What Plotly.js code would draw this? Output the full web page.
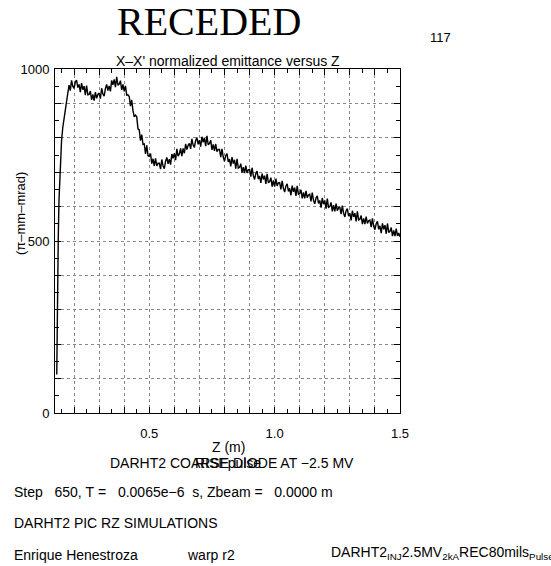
<!DOCTYPE html>
<html>
<head>
<meta charset="utf-8">
<script src="https://cdn.plot.ly/plotly-3.0.1.min.js"></script>
<style>html,body{margin:0;padding:0;background:#fff;}#chart{width:551px;height:566px;}</style>
</head>
<body>
<div id="chart"></div>
<script>
// ---- data ----
const zValues = [0.131,0.133,0.135,0.137,0.140,0.145,0.150,0.155,0.160,0.165,0.170,0.175,
0.180,0.185,0.190,0.195,0.200,0.205,0.210,0.215,0.220,0.225,0.230,0.235,0.240,0.245,0.250,0.255,0.260,0.265,0.270,0.275,
0.280,0.285,0.290,0.295,0.300,0.305,0.310,0.315,0.320,0.325,0.330,0.335,0.340,0.345,0.350,0.355,0.360,0.365,0.370,0.375,
0.380,0.385,0.390,0.395,0.400,0.405,0.410,0.415,0.420,0.425,0.430,0.435,0.440,0.445,0.450,0.455,0.460,0.465,0.470,0.475,
0.480,0.485,0.490,0.495,0.500,0.505,0.510,0.515,0.520,0.525,0.530,0.535,0.540,0.545,0.550,0.555,0.560,0.565,0.570,0.575,
0.580,0.585,0.590,0.595,0.600,0.605,0.610,0.615,0.620,0.625,0.630,0.635,0.640,0.645,0.650,0.655,0.660,0.665,0.670,0.675,
0.680,0.685,0.690,0.695,0.700,0.705,0.710,0.715,0.720,0.725,0.730,0.735,0.740,0.745,0.750,0.755,0.760,0.765,0.770,0.775,
0.780,0.785,0.790,0.795,0.800,0.805,0.810,0.815,0.820,0.825,0.830,0.835,0.840,0.845,0.850,0.855,0.860,0.865,0.870,0.875,
0.880,0.885,0.890,0.895,0.900,0.905,0.910,0.915,0.920,0.925,0.930,0.935,0.940,0.945,0.950,0.955,0.960,0.965,0.970,0.975,
0.980,0.985,0.990,0.995,1.000,1.005,1.010,1.015,1.020,1.025,1.030,1.035,1.040,1.045,1.050,1.055,1.060,1.065,1.070,1.075,
1.080,1.085,1.090,1.095,1.100,1.105,1.110,1.115,1.120,1.125,1.130,1.135,1.140,1.145,1.150,1.155,1.160,1.165,1.170,1.175,
1.180,1.185,1.190,1.195,1.200,1.205,1.210,1.215,1.220,1.225,1.230,1.235,1.240,1.245,1.250,1.255,1.260,1.265,1.270,1.275,
1.280,1.285,1.290,1.295,1.300,1.305,1.310,1.315,1.320,1.325,1.330,1.335,1.340,1.345,1.350,1.355,1.360,1.365,1.370,1.375,
1.380,1.385,1.390,1.395,1.400,1.405,1.410,1.415,1.420,1.425,1.430,1.435,1.440,1.445,1.450,1.455,1.460,1.465,1.470,1.475,
1.480,1.485,1.490,1.495,1.500];
const emittance = [112,300,420,510,620,730,790,830,862,880,905,930,
953,937,967,950,944,962,968,946,955,933,959,940,950,924,952,925,926,936,910,926,
908,933,915,926,930,914,944,927,921,943,955,937,951,935,967,954,970,947,977,953,
956,966,939,955,935,951,924,925,920,892,910,879,861,866,861,826,823,792,809,781,
782,753,778,748,746,754,725,739,718,740,718,726,726,709,737,718,710,732,743,724,
738,722,753,740,755,735,768,747,753,769,747,769,755,782,766,778,784,768,797,779,
772,792,801,781,793,774,803,787,800,776,806,780,783,793,765,781,762,782,760,766,
766,744,768,744,732,748,754,730,738,717,744,725,736,710,739,712,714,725,699,715,
697,719,698,707,708,687,713,690,679,696,703,680,689,669,696,679,690,666,695,670,
672,684,658,676,658,681,660,669,670,650,675,653,642,660,666,644,653,633,661,643,
655,631,660,635,638,649,624,641,624,646,626,634,636,615,641,618,608,625,631,609,
618,597,625,607,618,594,623,598,600,612,586,604,586,609,588,597,598,578,603,581,
570,588,594,572,581,560,588,570,581,557,586,561,563,574,549,566,549,571,551,559,
561,540,566,543,533,550,557,534,544,523,551,534,546,521,551,525,528,539,514,531,
514,536,515,523,512];
const xTickVals = [0.2,0.3,0.4,0.5,0.6,0.7,0.8,0.9,1.0,1.1,1.2,1.3,1.4,1.5];
const xTickText = ['','','','0.5','','','','','1.0','','','','','1.5'];
const yTickVals = [0,100,200,300,400,500,600,700,800,900,1000];
const yTickText = ['0','','','','','500','','','','','1000'];

// ---- layout geometry (pixels) ----
const W = 551, H = 566;
const L = 55, R = 400, T = 69, B = 413;
const px = x => (x - L) / (R - L);
const py = y => (B - y) / (B - T);
const SANS = 'Liberation Sans, Arial, sans-serif';
const SERIF = 'Liberation Serif, Times New Roman, serif';
const nb = s => s.replace(/ /g, '\u00a0');

function ann(text, x, y, o) {
  o = o || {};
  return Object.assign({
    text: text, xref: 'paper', yref: 'paper', x: px(x), y: py(y),
    xanchor: 'center', yanchor: 'middle', showarrow: false,
    font: {family: SANS, size: 14, color: '#000'}
  }, o);
}

const axisCommon = {
  showline: true, linecolor: '#000', linewidth: 1, mirror: 'allticks',
  ticks: 'inside', ticklen: 6, tickcolor: '#000', tickwidth: 1,
  tickmode: 'array', showgrid: true, gridcolor: '#888', griddash: 'dot', gridwidth: 1,
  zeroline: false, tickfont: {family: SANS, size: 13, color: '#000'}
};

const layout = {
  width: W, height: H,
  margin: {l: L, r: W - R, t: T, b: H - B, pad: 0},
  paper_bgcolor: '#fff', plot_bgcolor: '#fff',
  showlegend: false,
  xaxis: Object.assign({}, axisCommon, {
    range: [0.124, 1.5], tickvals: xTickVals, ticktext: xTickText,
    ticklabelstandoff: 8,
    minor: {tickmode: 'linear', tick0: 0, dtick: 0.05, ticks: 'inside', ticklen: 4, tickcolor: '#000', showgrid: false}
  }),
  yaxis: Object.assign({}, axisCommon, {
    range: [0, 1000], tickvals: yTickVals, ticktext: yTickText,
    ticklabelstandoff: 2,
    minor: {tickmode: 'linear', tick0: 0, dtick: 50, ticks: 'inside', ticklen: 4, tickcolor: '#000', showgrid: false}
  }),
  annotations: [
    ann('RECEDED', 209, 22, {font: {family: SERIF, size: 40, color: '#000'}}),
    ann('117', 440, 37, {font: {family: SANS, size: 13, color: '#000'}}),
    ann("X\u2013X' normalized emittance versus Z", 228, 61, {font: {family: SANS, size: 14, color: '#000'}}),
    ann('(\u03c0\u2013mm\u2013mrad)', 20, 214, {textangle: -90, font: {family: SANS, size: 13, color: '#000'}}),
    ann('Z (m)', 228, 447),
    ann('DARHT2 COARSE DIODE AT \u22122.5 MV', 232, 463),
    ann('RISEpulse', 228, 463),
    ann(nb('Step   650, T =   0.0065e\u22126  s, Zbeam =   0.0000 m'), 12, 492, {xanchor: 'left'}),
    ann('DARHT2 PIC RZ SIMULATIONS', 12, 523, {xanchor: 'left'}),
    ann('Enrique Henestroza', 12, 555, {xanchor: 'left'}),
    ann('warp r2', 185, 555, {xanchor: 'left'}),
    ann('DARHT2<sub>INJ</sub>2.5MV<sub>2kA</sub>REC80mils<sub>Pulse</sub>', 329, 553, {xanchor: 'left'})
  ]
};

const trace = {
  x: zValues, y: emittance, type: 'scatter', mode: 'lines',
  line: {color: '#000', width: 1.4}, hoverinfo: 'skip'
};

Plotly.newPlot('chart', [trace], layout, {staticPlot: true, displayModeBar: false});
</script>
</body>
</html>
